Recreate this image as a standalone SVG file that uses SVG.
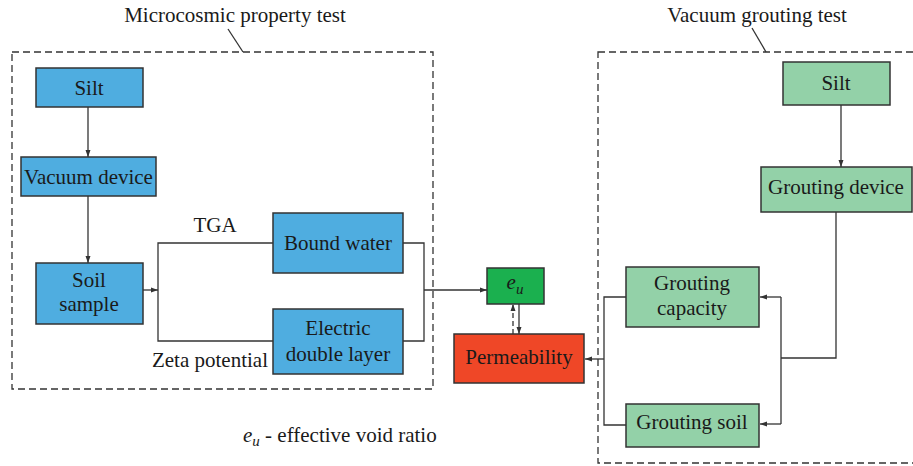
<svg xmlns="http://www.w3.org/2000/svg" width="913" height="466" viewBox="0 0 913 466" font-family="'Liberation Serif', 'DejaVu Serif', serif">
<defs>
<style>
.t{font-size:21px;fill:#1a1a1a;text-anchor:middle}
.l{font-size:21px;fill:#1a1a1a;text-anchor:start}
.box{stroke:#333;stroke-width:1.5}
.blue{fill:#4fade0}
.lg{fill:#93d1a8}
.c{fill:none;stroke:#333;stroke-width:1.3}
.d{fill:none;stroke:#333;stroke-width:1.3;stroke-dasharray:7 4}
</style>
<marker id="a" markerUnits="userSpaceOnUse" markerWidth="7" markerHeight="6" refX="7" refY="3" orient="auto">
<path d="M0,0.5 L7,3 L0,5.5 z" fill="#333"/>
</marker>
</defs>
<rect width="913" height="466" fill="#fff"/>
<g id="groups">
<rect x="12" y="52" width="421" height="337" class="d"/>
<path d="M243,52 L228,29" class="c"/>
<text x="235" y="22" class="t">Microcosmic property test</text>
<rect x="598" y="52" width="340" height="411" class="d"/>
<path d="M766,52 L752,28" class="c"/>
<text x="757" y="22" class="t">Vacuum grouting test</text>
</g>
<g id="connectors">
<path d="M88,107 V157" class="c" marker-end="url(#a)"/>
<path d="M88,196 V263" class="c" marker-end="url(#a)"/>
<path d="M143,290 H158" class="c" marker-end="url(#a)"/>
<path d="M273,243 H158 V341 H273" class="c"/>
<path d="M403,243 H424 V341 H403" class="c" stroke-width="2"/>
<path d="M424,290 H487" class="c" marker-end="url(#a)"/>
<path d="M519,304 V334" class="c" marker-end="url(#a)"/>
<path d="M513,334 V304" class="d" style="stroke-dasharray:5 3" marker-end="url(#a)"/>
<path d="M841,105 V167" class="c" marker-end="url(#a)"/>
<path d="M836,212 V358 H781" class="c"/>
<path d="M781,297 V424" class="c"/>
<path d="M781,297 H760" class="c" marker-end="url(#a)"/>
<path d="M781,424 H760" class="c" marker-end="url(#a)"/>
<path d="M626,297 H604 V425 H626" class="c"/>
<path d="M604,359 H585" class="c" marker-end="url(#a)"/>
</g>
<g id="silt1"><rect x="36" y="68" width="107" height="39" class="box blue"/><text x="89" y="95" class="t">Silt</text></g>
<g id="vacuum"><rect x="21" y="157" width="135" height="39" class="box blue"/><text x="88.5" y="184" class="t">Vacuum device</text></g>
<g id="soil"><rect x="36" y="263" width="107" height="61" class="box blue"/><text x="89" y="287" class="t">Soil</text><text x="89" y="311" class="t">sample</text></g>
<g id="tga"><text x="215" y="232" class="t">TGA</text></g>
<g id="zeta"><text x="210" y="367" class="t">Zeta potential</text></g>
<g id="bound"><rect x="273" y="213" width="130" height="60" class="box blue"/><text x="338" y="250" class="t">Bound water</text></g>
<g id="edl"><rect x="273" y="309" width="130" height="65" class="box blue"/><text x="338" y="335" class="t">Electric</text><text x="338" y="361" class="t">double layer</text></g>
<g id="eu"><rect x="487" y="268" width="57" height="36" class="box" fill="#1bb04f"/><text x="515" y="289" class="t" font-style="italic">e<tspan font-size="15" dy="5">u</tspan></text></g>
<g id="perm"><rect x="454" y="334" width="130" height="49" class="box" fill="#ef4727"/><text x="519" y="364" class="t">Permeability</text></g>
<g id="silt2"><rect x="783" y="62" width="107" height="43" class="box lg"/><text x="836" y="90" class="t">Silt</text></g>
<g id="gdevice"><rect x="761" y="167" width="151" height="45" class="box lg"/><text x="836" y="194" class="t">Grouting device</text></g>
<g id="gcap"><rect x="626" y="267" width="133" height="60" class="box lg"/><text x="692" y="290" class="t">Grouting</text><text x="692" y="315" class="t">capacity</text></g>
<g id="gsoil"><rect x="626" y="404" width="133" height="43" class="box lg"/><text x="692" y="429" class="t">Grouting soil</text></g>
<g id="legend"><text x="243" y="442" class="l"><tspan font-style="italic">e</tspan><tspan font-style="italic" font-size="15" dy="4">u</tspan><tspan dy="-4"> - effective void ratio</tspan></text></g>
</svg>
